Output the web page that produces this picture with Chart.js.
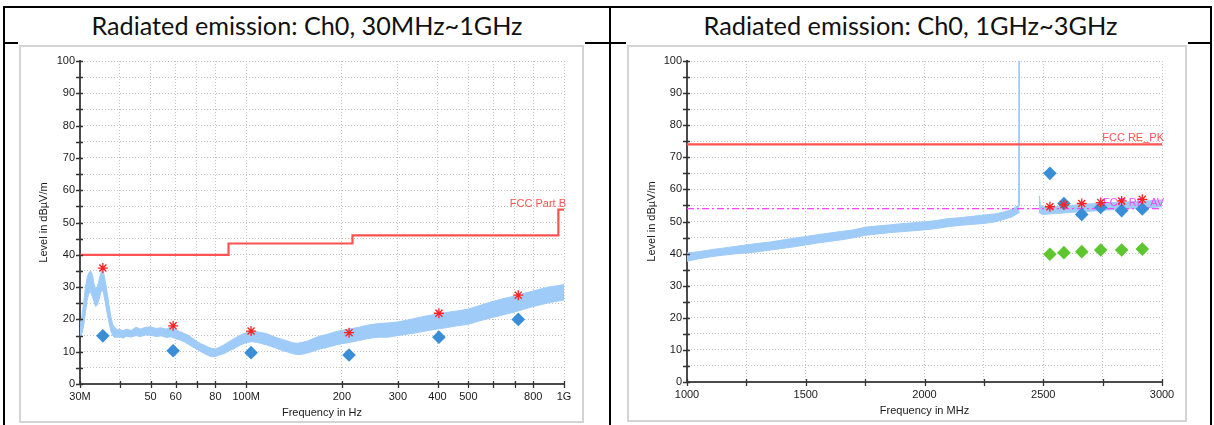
<!DOCTYPE html>
<html><head><meta charset="utf-8">
<script src="https://cdn.jsdelivr.net/npm/chart.js@4.4.1/dist/chart.umd.min.js"></script>
<style>
html,body{margin:0;padding:0;background:#fff;width:1214px;height:425px;overflow:hidden;position:relative;}
.ln{position:absolute;background:#000;}
.hdr{position:absolute;top:8px;height:34px;line-height:34px;text-align:center;font-family:Lato,'Open Sans',sans-serif;color:#111;white-space:nowrap;}
.box{position:absolute;background:#fff;}
.frame{position:absolute;border:2px solid #d4d4d4;box-sizing:border-box;}
canvas{position:absolute;}
</style></head><body>
<div class="ln" style="left:3px;top:6px;width:1209px;height:2px"></div>
<div class="ln" style="left:3px;top:42px;width:1209px;height:2px"></div>
<div class="ln" style="left:3px;top:6px;width:2px;height:419px"></div>
<div class="ln" style="left:609px;top:6px;width:2px;height:419px"></div>
<div class="ln" style="left:1210px;top:6px;width:2px;height:419px"></div>
<div class="hdr" id="h1" style="left:5px;width:604px"></div>
<div class="hdr" id="h2" style="left:611px;width:599px"></div>
<div class="box" style="left:18px;top:41px;width:567px;height:384px"></div>
<div class="box" style="left:626px;top:41px;width:562px;height:384px"></div>
<div class="frame" style="left:19px;top:45px;width:565px;height:378px"></div>
<div class="frame" style="left:627px;top:45px;width:560px;height:377px"></div>
<canvas id="c1" width="561" height="374" style="left:21px;top:47px"></canvas>
<canvas id="c2" width="556" height="373" style="left:629px;top:47px"></canvas>
<script>
// ---------- titles ----------
const headerTitles = ['Radiated emission: Ch0, 30MHz~1GHz', 'Radiated emission: Ch0, 1GHz~3GHz'];
const axisTitlesY = ['Level in dBµV/m', 'Level in dBµV/m'];
const axisTitlesX = ['Frequency in Hz', 'Frequency in MHz'];

// ---------- y ticks (shared) ----------
const yTickValues = [0,5,10,15,20,25,30,35,40,45,50,55,60,65,70,75,80,85,90,95,100];
const yTickLabels = ['0','','10','','20','','30','','40','','50','','60','','70','','80','','90','','100'];

// ---------- left chart (30 MHz - 1 GHz) ----------
const leftTickValues = [30,40,50,60,70,80,100,200,300,400,500,600,700,800,1000];
const leftTickLabels = ['30M','','50','60','','80','100M','200','300','400','500','','','800','1G'];

const leftTraceFreq = [30,30.4,30.8,31.2,31.6,32.0,32.4,32.8,33.2,33.6,34.0,34.4,34.8,35.2,35.6,36.0,36.5,37.0,37.5,38.0,38.6,39.3,40,41,42,43.5,45,46.5,48,50,52,54,56,58,60,62,64,66,68,70,72,74,76,78,80,82,84,86,88,90,93,96,100,104,108,112,116,120,125,130,135,140,145,150,156,162,170,180,190,200,210,225,240,260,280,300,325,350,375,400,430,460,500,540,580,620,660,700,750,800,850,900,950,1000];
const leftTraceHi = [18,21,25,30,33,34.5,35,34,31,29.5,30,32,34,35.5,34.5,32,28.5,24.5,21,18.5,17.5,16.8,16.9,16.5,17,16.6,17.6,17,17.5,17.7,17.2,17.4,17,17.7,16.8,16.2,15.6,15,14,13.2,12.5,12,11.4,11,10.9,11.3,11.8,12.4,13,13.6,14.4,15.2,15.9,16.6,16.2,15.9,15.6,15,14.3,13.8,13.3,12.8,12.6,12.9,13.3,14,14.8,15.4,16.1,16.6,17,17.5,18.2,18.7,18.9,19.2,19.9,20.6,21.2,21.6,22.2,22.6,23.2,24.2,25.2,26,26.7,27.2,28.1,28.8,29.5,30.1,30.4,30.8];
const leftTraceLo = [14.5,15.5,18,22,26,28,28.5,27,25.5,24,24.5,26,28,29.5,28,25.5,22,19,16.5,15,14.3,14.5,14.6,14.2,14.8,14.5,15,14.6,15.2,15.1,14.7,14.9,14.4,14.6,14,13.6,13,12.2,11.4,10.8,10,9.4,8.8,8.4,8.5,8.9,9.2,9.6,10.2,10.6,11.3,12.1,12.8,13.1,12.9,12.5,12.1,11.6,11,10.3,9.9,9.4,9.1,9.2,9.6,10.1,10.8,11.3,12,12.5,12.8,13.4,14,14.5,14.5,15,15.5,16,16.6,17,17.5,18,18.5,19.5,20.3,21,21.7,22.3,23.2,24,24.6,25.2,25.6,26];

const leftLimitFreq = [30,88,88,216,216,960,960,1000];
const leftLimitLevel = [40,40,43.5,43.5,46,46,54,54];
const leftLimitName = 'FCC Part B';

const leftMarkFreq = [35.4,58.9,103.6,210.7,404,718];
const leftPeakLevel = [35.9,18.0,16.4,15.9,21.9,27.5];
const leftQpLevel = [14.9,10.3,9.7,9.0,14.5,20.0];

// ---------- right chart (1 GHz - 3 GHz) ----------
const rightTickValues = [1000,1250,1500,1750,2000,2250,2500,2750,3000];
const rightTickLabels = ['1000','','1500','','2000','','2500','','3000'];

const rightTrace1Freq = [1000,1050,1100,1150,1200,1250,1300,1350,1400,1450,1500,1550,1600,1650,1700,1750,1800,1850,1900,1950,2000,2050,2100,2150,2200,2250,2300,2340,2370,2390,2396,2398,2400];
const rightTrace1Hi = [40.2,40.6,41.2,41.7,42.2,42.7,43.2,43.6,44.2,44.8,45.3,45.9,46.4,46.9,47.4,48.2,48.6,48.9,49.3,49.6,49.9,50.3,50.9,51.2,51.6,52,52.4,53.1,53.8,54.8,55,100,55];
const rightTrace1Lo = [37.6,38.4,39,39.5,39.9,40.2,40.6,41.1,41.6,42.1,42.7,43.3,43.8,44.3,44.9,45.7,46.1,46.5,46.8,47.1,47.4,47.8,48.4,48.8,49.1,49.4,49.9,50.8,51.5,52.4,52.6,52.8,53];
const rightTrace2Freq = [2482,2484,2488,2500,2520,2550,2580,2610,2650,2700,2750,2800,2850,2900,2950,3000];
const rightTrace2Hi = [57.5,58,55,54.6,54.4,54.6,54.8,55,55.2,55.5,55.7,55.9,56.1,56.3,56.5,56.7];
const rightTrace2Lo = [52.5,53,52.4,52.2,52.3,52.5,52.6,52.8,53,53.2,53.5,53.7,53.9,54.1,54.3,54.6];

const rightPkLimitFreq = [1000,3000];
const rightPkLimitLevel = [74,74];
const rightAvLimitFreq = [1000,3000];
const rightAvLimitLevel = [54,54];
const rightPkLimitName = 'FCC RE_PK';
const rightAvLimitName = 'FCC RE_AV';

const rightMarkFreq = [2528,2587,2662,2742,2830,2917];
const rightPeakLevel = [54.6,55.2,55.6,55.9,56.4,56.9];
const rightFinalPkLevel = [65.0,55.6,52.2,54.4,53.4,53.9];
const rightFinalAvLevel = [39.8,40.3,40.6,41.1,41.1,41.4];

// ---------- styles ----------
const traceColor = '#9fcbf8';
const limitRed = '#ff5252';
const avMagenta = '#ff44ff';
const starRed = '#ff2020';
const diamondBlue = '#3a8ed8';
const diamondGreen = '#5ec72f';

// ---------- headers ----------
function fitHeader(id, text, targetW) {
  const el = document.getElementById(id);
  el.textContent = text;
  const c = document.createElement('canvas').getContext('2d');
  c.font = '100px Lato';
  const w = c.measureText(text).width;
  el.style.fontSize = (100 * targetW / w).toFixed(2) + 'px';
}
fitHeader('h1', headerTitles[0], 431);
fitHeader('h2', headerTitles[1], 414);

Chart.defaults.font.family = "'Liberation Sans', Arial, sans-serif";
Chart.defaults.font.size = 11;
Chart.defaults.color = '#1a1a1a';

const pts = (xs, ys) => xs.map((x, i) => ({x: x, y: ys[i]}));

const crossTicks = {
  id: 'crossTicks',
  afterDraw(chart) {
    const {ctx, chartArea: a} = chart;
    const xs = chart.scales.x, ys = chart.scales.y;
    ctx.save();
    ctx.strokeStyle = '#333';
    ctx.lineWidth = 1.3;
    ctx.beginPath();
    xs.ticks.forEach(t => { const p = Math.round(xs.getPixelForValue(t.value)) + 0.5; ctx.moveTo(p, a.bottom - 3); ctx.lineTo(p, a.bottom + 4); });
    ys.ticks.forEach(t => { const p = Math.round(ys.getPixelForValue(t.value)) + 0.5; ctx.moveTo(a.left - 4, p); ctx.lineTo(a.left + 3, p); });
    ctx.stroke();
    ctx.restore();
  }
};

function limitLabels(list, afterIndex) {
  return {
    id: 'limitLabels',
    afterDatasetDraw(chart, args) {
      if (args.index !== afterIndex) return;
      const {ctx} = chart;
      const xs = chart.scales.x, ys = chart.scales.y;
      ctx.save();
      ctx.font = "11px 'Liberation Sans', Arial, sans-serif";
      ctx.textAlign = 'right';
      ctx.textBaseline = 'alphabetic';
      list.forEach(l => {
        ctx.fillStyle = l.color;
        ctx.fillText(l.text, xs.getPixelForValue(l.x) + 2, ys.getPixelForValue(l.y) - 3);
      });
      ctx.restore();
    }
  };
}

function yScale(axisWidth, title) {
  return {
    type: 'linear', min: 0, max: 100,
    afterBuildTicks: s => { s.ticks = yTickValues.map(v => ({value: v})); },
    afterFit: s => { s.width = axisWidth; },
    ticks: { padding: 5, autoSkip: false, callback: (v) => yTickLabels[yTickValues.indexOf(v)] },
    grid: { color: '#c4c4c4', lineWidth: 1, drawTicks: false },
    border: { display: true, color: '#4a4a4a', width: 2, dash: [1, 2] },
    title: { display: true, text: title, padding: {top: 0, bottom: 0}, font: {size: 11} }
  };
}

function xGrid() {
  return { color: '#c4c4c4', lineWidth: 1, drawTicks: false };
}

const lineDs = (data, color, width, extra) => Object.assign({
  data: data, borderColor: color, backgroundColor: color, borderWidth: width,
  pointRadius: 0, showLine: true, fill: false, tension: 0
}, extra || {});

const markDs = (data, style, color, radius, extra) => Object.assign({
  data: data, showLine: false, pointStyle: style, pointRadius: radius,
  pointBorderColor: color, pointBackgroundColor: color, borderColor: color, backgroundColor: color,
  pointBorderWidth: style === 'star' ? 1.3 : 0
}, extra || {});

// ---------- left chart ----------
new Chart(document.getElementById('c1'), {
  type: 'line',
  data: {
    datasets: [
      markDs(pts(leftMarkFreq, leftPeakLevel), 'star', starRed, 5),
      markDs(pts(leftMarkFreq, leftQpLevel), 'rectRot', diamondBlue, 6.8),
      lineDs(pts(leftLimitFreq, leftLimitLevel), limitRed, 2.2),
      lineDs(pts(leftTraceFreq, leftTraceHi), traceColor, 1, {fill: '+1'}),
      lineDs(pts(leftTraceFreq, leftTraceLo), traceColor, 1)
    ]
  },
  options: {
    responsive: false, animation: false,
    layout: { padding: { left: 16, right: 18, top: 14, bottom: 0 } },
    plugins: { legend: {display: false}, tooltip: {enabled: false} },
    scales: {
      x: {
        type: 'logarithmic', min: 30, max: 1000,
        afterBuildTicks: s => { s.ticks = leftTickValues.map(v => ({value: v})); },
        afterFit: s => { s.height = 37; },
        ticks: { padding: 6, autoSkip: false, maxRotation: 0, callback: (v) => leftTickLabels[leftTickValues.indexOf(v)] },
        grid: xGrid(),
        border: { display: true, color: '#4a4a4a', width: 2, dash: [1, 2] },
        title: { display: true, text: axisTitlesX[0], padding: {top: 0, bottom: 1}, font: {size: 11} }
      },
      y: yScale(43, axisTitlesY[0])
    }
  },
  plugins: [crossTicks, limitLabels([{text: leftLimitName, x: 1000, y: 54, color: limitRed}], 2)]
});

// ---------- right chart ----------
new Chart(document.getElementById('c2'), {
  type: 'line',
  data: {
    datasets: [
      markDs(pts(rightMarkFreq, rightPeakLevel), 'star', starRed, 5),
      markDs(pts(rightMarkFreq, rightFinalPkLevel), 'rectRot', diamondBlue, 6.8),
      markDs(pts(rightMarkFreq, rightFinalAvLevel), 'rectRot', diamondGreen, 6.8),
      lineDs(pts(rightPkLimitFreq, rightPkLimitLevel), limitRed, 2.2),
      lineDs(pts(rightAvLimitFreq, rightAvLimitLevel), avMagenta, 1.2, {borderDash: [7, 3, 2, 3]}),
      lineDs(pts(rightTrace1Freq, rightTrace1Hi), traceColor, 1, {fill: '+1'}),
      lineDs(pts(rightTrace1Freq, rightTrace1Lo), traceColor, 1),
      lineDs(pts(rightTrace2Freq, rightTrace2Hi), traceColor, 1, {fill: '+1'}),
      lineDs(pts(rightTrace2Freq, rightTrace2Lo), traceColor, 1)
    ]
  },
  options: {
    responsive: false, animation: false,
    layout: { padding: { left: 16, right: 23, top: 14, bottom: 0 } },
    plugins: { legend: {display: false}, tooltip: {enabled: false} },
    scales: {
      x: {
        type: 'linear', min: 1000, max: 3000,
        afterBuildTicks: s => { s.ticks = rightTickValues.map(v => ({value: v})); },
        afterFit: s => { s.height = 38; },
        ticks: { padding: 6, autoSkip: false, maxRotation: 0, callback: (v) => rightTickLabels[rightTickValues.indexOf(v)] },
        grid: xGrid(),
        border: { display: true, color: '#4a4a4a', width: 2, dash: [1, 2] },
        title: { display: true, text: axisTitlesX[1], padding: {top: 0, bottom: 2}, font: {size: 11} }
      },
      y: yScale(42, axisTitlesY[1])
    }
  },
  plugins: [crossTicks, limitLabels([
    {text: rightPkLimitName, x: 3000, y: 74, color: limitRed},
    {text: rightAvLimitName, x: 3000, y: 54, color: avMagenta}
  ], 3)]
});
</script>
</body></html>
